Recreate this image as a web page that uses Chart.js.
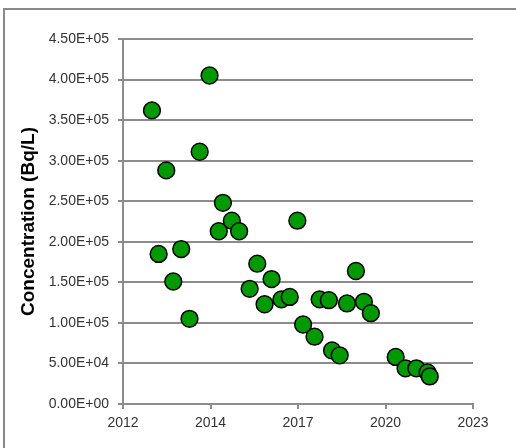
<!DOCTYPE html>
<html>
<head>
<meta charset="utf-8">
<script src="https://cdn.jsdelivr.net/npm/chart.js@4.4.1/dist/chart.umd.min.js"></script>
<style>
html,body{margin:0;padding:0;background:#fff;}
#wrap{position:relative;width:516px;height:448px;}
</style>
</head>
<body>
<div id="wrap"><canvas id="c" width="516" height="448"></canvas></div>
<script>
// Sampling dates (decimal years) and concentrations (Bq/L)
const sampleYears = [2012.91, 2013.12, 2013.36, 2013.58, 2013.83, 2014.09, 2014.41, 2014.72, 2015.01, 2015.14,
  2015.42, 2015.65, 2015.98, 2016.22, 2016.45, 2016.67, 2016.98, 2017.24, 2017.48, 2017.66,
  2018.02, 2018.18, 2018.47, 2018.57, 2018.81, 2019.04, 2019.32, 2019.57, 2019.79, 2020.57,
  2020.88, 2021.22, 2021.57, 2021.64];
const concentrations = [362000, 185000, 288000, 151000, 191000, 105000, 311000, 405000, 213000, 248000,
  226000, 213000, 142000, 173000, 123000, 154000, 129000, 132000, 226000, 98000,
  83000, 129000, 128000, 66000, 60000, 124000, 164000, 126000, 112000, 58000,
  44000, 44000, 39000, 34000];
const xTickLabels = ['2012', '2014', '2017', '2020', '2023'];
const yTitle = 'Concentration (Bq/L)';

const points = sampleYears.map((x, i) => ({x: x, y: concentrations[i]}));

function sci(v) {
  if (v === 0) return '0.00E+00';
  const e = Math.floor(Math.log10(Math.abs(v)) + 1e-9);
  const m = v / Math.pow(10, e);
  const es = (e < 0 ? '-' : '+') + String(Math.abs(e)).padStart(2, '0');
  return m.toFixed(2) + 'E' + es;
}

const framePlugin = {
  id: 'frame',
  beforeDraw(chart) {
    const ctx = chart.ctx;
    ctx.save();
    ctx.strokeStyle = '#8a8a8a';
    ctx.lineWidth = 2;
    ctx.beginPath();
    ctx.moveTo(4, 448);
    ctx.lineTo(4, 9);
    ctx.lineTo(516, 9);
    ctx.stroke();
    ctx.restore();
  }
};

const GRID = '#8c8c8c';
new Chart(document.getElementById('c'), {
  type: 'scatter',
  data: {
    datasets: [{
      data: points,
      backgroundColor: '#009a00',
      borderColor: '#000000',
      borderWidth: 1.5,
      pointRadius: 8.4,
      pointHoverRadius: 8.4
    }]
  },
  options: {
    responsive: false,
    animation: false,
    events: [],
    layout: {padding: {left: 17, right: 43, top: 39, bottom: 0}},
    plugins: {legend: {display: false}, tooltip: {enabled: false}},
    scales: {
      x: {
        type: 'linear',
        min: 2012, max: 2023,
        afterBuildTicks(scale) {
          scale.ticks = xTickLabels.map((t, i) => ({value: 2012 + i * 2.75}));
        },
        afterFit(scale) { scale.height = 44; },
        grid: {drawOnChartArea: false, drawTicks: true, tickLength: 5, color: GRID, lineWidth: 2},
        border: {color: GRID, width: 2},
        ticks: {
          padding: 6,
          color: '#333',
          font: {family: 'Liberation Sans', size: 14},
          maxRotation: 0,
          callback: (v, i) => xTickLabels[i]
        }
      },
      y: {
        min: 0, max: 450000,
        afterFit(scale) { scale.width = 106; },
        grid: {color: GRID, lineWidth: 2, tickLength: 5},
        border: {color: GRID, width: 2},
        ticks: {
          stepSize: 50000,
          padding: 9,
          color: '#333',
          font: {family: 'Liberation Sans', size: 14},
          callback: (v) => sci(v)
        },
        title: {
          display: true,
          text: yTitle,
          color: '#000',
          font: {family: 'Liberation Sans', size: 19, weight: 'bold'},
          padding: {top: 0, bottom: 0}
        }
      }
    }
  },
  plugins: [framePlugin]
});
</script>
</body>
</html>
